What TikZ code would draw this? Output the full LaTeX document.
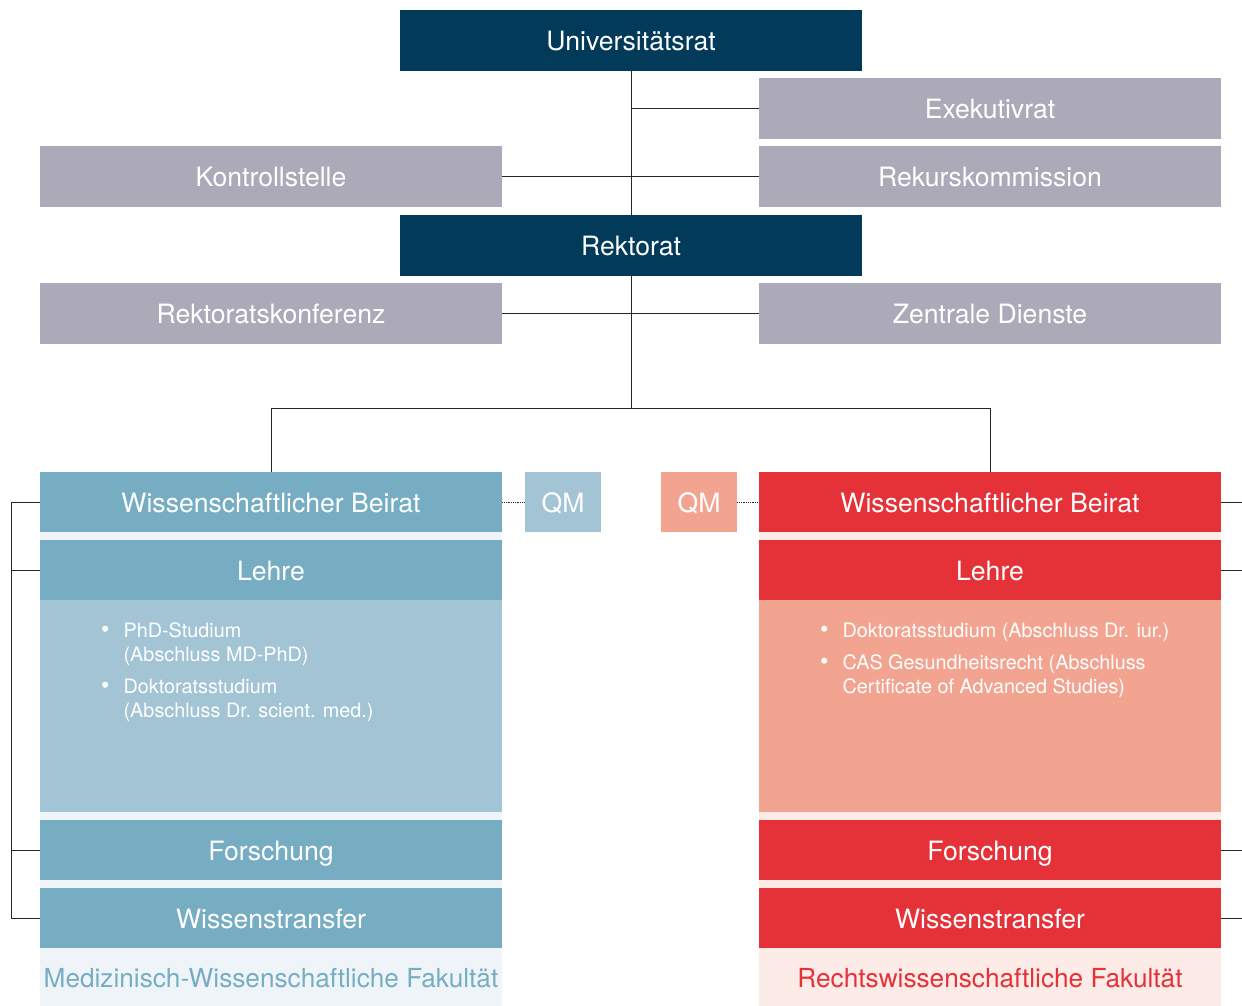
\documentclass[tikz,border=0pt]{standalone}
\usepackage{fontspec}
\setmainfont{TeX Gyre Heros}
\definecolor{navy}{HTML}{023A5A}
\definecolor{grau}{HTML}{ACAAB9}
\definecolor{medblau}{HTML}{77ADC3}
\definecolor{medhell}{HTML}{A2C4D4}
\definecolor{medbg}{HTML}{EEF4F8}
\definecolor{rwrot}{HTML}{E53138}
\definecolor{rwhell}{HTML}{F2A491}
\definecolor{rwbg}{HTML}{FCEBE7}
\newcommand{\punkt}{{\fontsize{24}{24}\selectfont\textbullet}}

\begin{document}
\begin{tikzpicture}[x=1pt,y=-1pt,
  box/.style={minimum width=462pt,minimum height=61pt,inner sep=0pt,
    text=white,font=\fontsize{26.6}{32}\selectfont,text height=20.5pt,text depth=0pt},
  lane/.style={box,minimum height=60pt},
  qm/.style={box,minimum width=76pt,minimum height=60pt},
  list/.style={anchor=base west,inner sep=0pt,text=white,align=left,
    font=\fontsize{19.8}{24}\selectfont},
  fak/.style={font=\fontsize{26.2}{32}\selectfont},
  line/.style={draw=black!85,line width=1pt}]
  \useasboundingbox (0,0) rectangle (1242,1006);
  \fill[medbg] (40,472) rectangle (502,1006);
  \fill[rwbg] (759,472) rectangle (1221,1006);
  \node[box,fill=navy] (uni) at (631,40.5) {Universitätsrat};
  \node[box,fill=grau] (exe) at (990,108.5) {Exekutivrat};
  \node[box,fill=grau] (kon) at (271,176.5) {Kontrollstelle};
  \node[box,fill=grau] (rekurs) at (990,176.5) {Rekurskommission};
  \node[box,fill=navy] (rek) at (631,245.5) {Rektorat};
  \node[box,fill=grau] (rkon) at (271,313.5) {Rektoratskonferenz};
  \node[box,fill=grau] (zd) at (990,313.5) {Zentrale Dienste};
  \foreach \s/\x/\c/\h in {L/271/medblau/medhell,R/990/rwrot/rwhell}{
    \node[lane,fill=\c] (wb\s) at (\x,502) {Wissenschaftlicher Beirat};
    \node[lane,fill=\c] (lehre\s) at (\x,570) {Lehre};
    \node[lane,fill=\h,minimum height=212pt] (inhalt\s) at (\x,706) {};
    \node[lane,fill=\c] (for\s) at (\x,850) {Forschung};
    \node[lane,fill=\c] (wt\s) at (\x,918) {Wissenstransfer};
  }
  \node[qm,fill=medhell] (qmL) at (563,502) {QM};
  \node[qm,fill=rwhell] (qmR) at (699,502) {QM};
  \node[list] (listeL) at (101,637) {\begin{tabular}[t]{@{}l@{\hspace{14pt}}l@{}}
    \punkt & PhD-Studium\\ & (Abschluss MD-PhD)\\[8pt]
    \punkt & Doktoratsstudium\\ & (Abschluss Dr. scient. med.)\end{tabular}};
  \node[list] (listeR) at (820,637) {\begin{tabular}[t]{@{}l@{\hspace{14pt}}l@{}}
    \punkt & Doktoratsstudium (Abschluss Dr. iur.)\\[8pt]
    \punkt & CAS Gesundheitsrecht (Abschluss\\ & Certificate of Advanced Studies)\end{tabular}};
  \node[fak,text=medblau] (fakL) at (271,978) {Medizinisch-Wissenschaftliche Fakultät};
  \node[fak,text=rwrot] (fakR) at (990,978) {Rechtswissenschaftliche Fakultät};
  \coordinate (split) at (631,408);
  \coordinate (links) at (11,0);
  \coordinate (rechts) at (1242,0);
  \draw[line] (uni) -- (rek);
  \draw[line] (rek) -- (split);
  \draw[line] (exe) -- (exe -| uni);
  \draw[line] (kon) -- (rekurs);
  \draw[line] (rkon) -- (zd);
  \draw[line] (split) -| (wbL);
  \draw[line] (split) -| (wbR);
  \draw[line,line width=0.8pt,densely dotted] (wbL) -- (qmL);
  \draw[line,line width=0.8pt,densely dotted] (qmR) -- (wbR);
  \foreach \n in {wb,lehre,for,wt}{
    \draw[line] (\n L.west) -- (\n L.west -| links);
    \draw[line] (\n R.east) -- (\n R.east -| rechts);
  }
  \draw[line] (wbL.west -| links) -- (wtL.west -| links);
\end{tikzpicture}
\end{document}
